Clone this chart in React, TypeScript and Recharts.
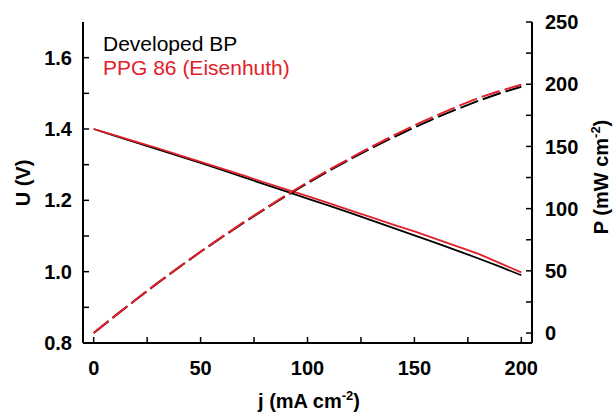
import React from 'react';
import { LineChart, Line, XAxis, YAxis } from 'recharts';

// current density (mA cm-2)
const current = [0, 10, 20, 30, 40, 50, 60, 70, 80, 90, 100, 110, 120, 130, 140, 150, 160, 170, 180, 190, 200];

// cell voltage (V)
const uDeveloped = [1.400, 1.381, 1.362, 1.343, 1.324, 1.305, 1.285, 1.265, 1.245, 1.225, 1.205, 1.185, 1.165, 1.144, 1.123, 1.102, 1.081, 1.059, 1.037, 1.014, 0.990];
const uPPG = [1.400, 1.382, 1.364, 1.346, 1.327, 1.308, 1.289, 1.270, 1.250, 1.231, 1.212, 1.192, 1.172, 1.152, 1.132, 1.113, 1.092, 1.071, 1.050, 1.024, 0.998];

// power density (mW cm-2)
const pDeveloped = [0, 13.8, 27.2, 40.3, 53.0, 65.3, 77.1, 88.6, 99.6, 110.3, 120.5, 130.4, 139.8, 148.7, 157.2, 165.3, 173.0, 180.0, 186.7, 192.7, 198.0];
const pPPG = [0, 13.8, 27.3, 40.4, 53.1, 65.4, 77.3, 88.9, 100.0, 110.8, 121.2, 131.1, 140.6, 149.8, 158.5, 167.0, 174.7, 182.1, 189.0, 194.6, 199.6];

const xTicks = [0, 25, 50, 75, 100, 125, 150, 175, 200];
const uTicks = [0.8, 0.9, 1.0, 1.1, 1.2, 1.3, 1.4, 1.5, 1.6];
const pTicks = [0, 25, 50, 75, 100, 125, 150, 175, 200, 225, 250];

const RED = '#e3202a';
const FONT = '"Liberation Sans", Arial, sans-serif';

const data = current.map((j, i) => ({
  j,
  uDev: uDeveloped[i],
  uPpg: uPPG[i],
  pDev: pDeveloped[i],
  pPpg: pPPG[i],
}));

const tickStyle = { fill: '#000', fontSize: 20, fontWeight: 700, fontFamily: FONT };
const axisLine = { stroke: '#000', strokeWidth: 2 };
const tickLine = { stroke: '#000', strokeWidth: 1.5 };

export default function App() {
  return (
    <div style={{ position: 'absolute', left: 0, top: 0 }}>
      <LineChart width={614} height={414} data={data} margin={{ top: 22, right: 0, left: 0, bottom: 0 }}>
        <XAxis
          xAxisId="bottom"
          dataKey="j"
          type="number"
          domain={[-5, 205]}
          ticks={xTicks}
          height={71}
          tickSize={-6}
          tickMargin={24}
          axisLine={axisLine}
          tickLine={tickLine}
          tick={tickStyle}
          tickFormatter={(v) => (v % 50 === 0 ? String(v) : '')}
          interval={0}
        />
        <XAxis
          xAxisId="top"
          orientation="top"
          dataKey="j"
          type="number"
          domain={[-5, 205]}
          ticks={xTicks}
          height={0}
          tickSize={-6}
          axisLine={axisLine}
          tickLine={tickLine}
          tickFormatter={() => ''}
          interval={0}
        />
        <YAxis
          yAxisId="U"
          type="number"
          domain={[0.8, 1.7]}
          ticks={uTicks}
          width={83}
          tickSize={-6}
          tickMargin={17}
          axisLine={axisLine}
          tickLine={tickLine}
          tick={tickStyle}
          tickFormatter={(v) => (Math.round(v * 10) % 2 === 0 ? v.toFixed(1) : '')}
          interval={0}
          allowDataOverflow
        />
        <YAxis
          yAxisId="P"
          orientation="right"
          type="number"
          domain={[-8, 250]}
          ticks={pTicks}
          width={82}
          tickSize={-6}
          tickMargin={19}
          axisLine={axisLine}
          tickLine={tickLine}
          tick={tickStyle}
          tickFormatter={(v) => (v % 50 === 0 ? String(v) : '')}
          interval={0}
          allowDataOverflow
        />

        <Line xAxisId="bottom" yAxisId="U" dataKey="uDev" stroke="#000" strokeWidth={1.8} dot={false} isAnimationActive={false} />
        <Line xAxisId="bottom" yAxisId="U" dataKey="uPpg" stroke={RED} strokeWidth={1.8} dot={false} isAnimationActive={false} />
        <Line xAxisId="bottom" yAxisId="P" dataKey="pDev" stroke="#000" strokeWidth={2} strokeDasharray="19 5" dot={false} isAnimationActive={false} />
        <Line xAxisId="bottom" yAxisId="P" dataKey="pPpg" stroke={RED} strokeWidth={2} strokeDasharray="19 5" dot={false} isAnimationActive={false} />

        <text x={103} y={51} fontSize={21} fontFamily={FONT} fill="#000">Developed BP</text>
        <text x={103} y={75} fontSize={21} fontFamily={FONT} fill={RED}>PPG 86 (Eisenhuth)</text>

        <text x={309} y={408} textAnchor="middle" fontSize={20} fontWeight={700} fontFamily={FONT} fill="#000">
          j (mA cm<tspan dy={-8} fontSize={13}>-2</tspan><tspan dy={8}>)</tspan>
        </text>
        <text x={30} y={183} transform="rotate(-90, 30, 183)" textAnchor="middle" fontSize={20} fontWeight={700} fontFamily={FONT} fill="#000">
          U (V)
        </text>
        <text x={608} y={177} transform="rotate(-90, 608, 177)" textAnchor="middle" fontSize={20} fontWeight={700} fontFamily={FONT} fill="#000">
          P (mW cm<tspan dy={-8} fontSize={13}>-2</tspan><tspan dy={8}>)</tspan>
        </text>
      </LineChart>
    </div>
  );
}
